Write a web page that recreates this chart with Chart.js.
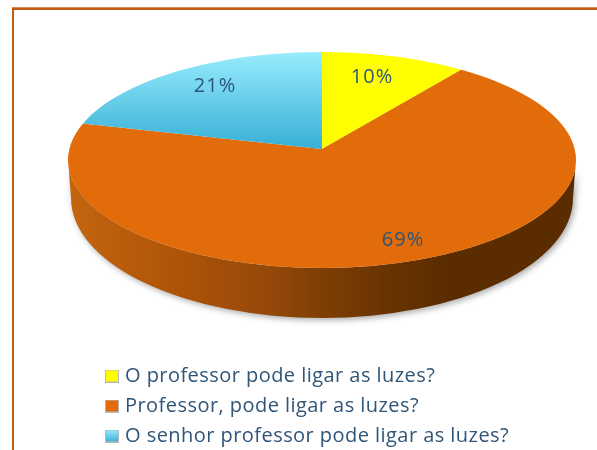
<!DOCTYPE html>
<html><head><meta charset="utf-8">
<style>html,body{margin:0;padding:0;background:#fff;overflow:hidden}canvas{display:block}</style>
<script src="https://cdn.jsdelivr.net/npm/chart.js@4"></script>
</head><body>
<canvas id="c" width="597" height="450"></canvas>
<script>
const categories = ["O professor pode ligar as luzes?", "Professor, pode ligar as luzes?", "O senhor professor pode ligar as luzes?"];
const values = [10, 69, 21];
const sliceColors = ["#FFFF00", "#E26B0A", "#5CC8E6"];
const labelColor = "#2F5578";

// picture geometry of the tilted pie
const APEX = {x: 322, y: 149};
const TOP = {x: 322, y: 160, rx: 254, ry: 108};
const BASE = {x: 322, y: 198, rx: 251, ry: 120};
const STRETCH = {x: 360, y: 149};
const LABEL_POS = [[372, 77], [403, 240], [215, 86]];

function pieGeom(chart) {
  const a = chart.chartArea;
  return {cx: (a.left + a.right) / 2, cy: (a.top + a.bottom) / 2, r: Math.min(a.right - a.left, a.bottom - a.top) / 2};
}
function cyanGradient(chart) {
  if (!chart.chartArea) return sliceColors[2];
  const g = pieGeom(chart), sy = STRETCH.y / g.r;
  const y0 = g.cy + (52 - APEX.y) / sy, y1 = g.cy + (150 - APEX.y) / sy;
  const gr = chart.ctx.createLinearGradient(0, y0, 0, y1);
  gr.addColorStop(0, "#98ECFC");
  gr.addColorStop(1, "#36AED6");
  return gr;
}
function marker(i) {
  const m = document.createElement("canvas");
  m.width = 14; m.height = 13;
  const c = m.getContext("2d");
  if (i === 2) {
    const g = c.createLinearGradient(0, 0, 0, 13);
    g.addColorStop(0, "#98ECFC"); g.addColorStop(1, "#36AED6");
    c.fillStyle = g;
  } else c.fillStyle = sliceColors[i];
  c.fillRect(0, 0, 14, 13);
  c.strokeStyle = "#B8B8B8"; c.lineWidth = 1;
  c.strokeRect(0.5, 0.5, 13, 12);
  return m;
}
const markers = categories.map((_, i) => marker(i));
const pie3d = {
  id: "pie3d",
  beforeDraw(chart) {
    const c = chart.ctx;
    c.save();
    c.fillStyle = "#fff"; c.fillRect(0, 0, 597, 450);
    c.fillStyle = "#D98A55"; c.fillRect(12, 7, 585, 1);
    c.fillStyle = "#C55A11";
    c.fillRect(12, 8, 585, 2);
    c.fillRect(12, 8, 2, 442);
    c.restore();
    c.letterSpacing = "0.45px";
  },
  beforeDatasetsDraw(chart) {
    const c = chart.ctx, g = pieGeom(chart);
    // side wall
    c.save();
    c.shadowColor = "rgba(0,0,0,0.35)"; c.shadowBlur = 6; c.shadowOffsetX = 2; c.shadowOffsetY = 2;
    const w = c.createLinearGradient(68, 0, 576, 0);
    w.addColorStop(0, "#C4650F");
    w.addColorStop(0.2, "#B05508");
    w.addColorStop(0.4, "#94480A");
    w.addColorStop(0.5, "#7E3E04");
    w.addColorStop(0.62, "#6A3402");
    w.addColorStop(0.75, "#5A2C00");
    w.addColorStop(1, "#5A2C00");
    c.fillStyle = w;
    c.beginPath();
    c.ellipse(TOP.x, TOP.y, TOP.rx, TOP.ry, 0, Math.PI, 0, true);
    c.lineTo(BASE.x + BASE.rx, BASE.y);
    c.ellipse(BASE.x, BASE.y, BASE.rx, BASE.ry, 0, 0, Math.PI, false);
    c.closePath();
    c.fill();
    c.restore();
    // top surface: the library's arcs, projected
    c.save();
    c.beginPath();
    c.ellipse(TOP.x, TOP.y, TOP.rx, TOP.ry, 0, 0, Math.PI * 2);
    c.clip();
    c.translate(APEX.x, APEX.y);
    c.scale(STRETCH.x / g.r, STRETCH.y / g.r);
    c.translate(-g.cx, -g.cy);
  },
  afterDatasetsDraw(chart) {
    chart.ctx.restore();
  },
  afterDraw(chart) {
    const c = chart.ctx;
    c.save();
    c.font = "20px 'Open Sans'";
    c.letterSpacing = "1px";
    c.fillStyle = labelColor;
    c.textAlign = "center"; c.textBaseline = "middle";
    values.forEach((v, i) => c.fillText(v + "%", LABEL_POS[i][0], LABEL_POS[i][1]));
    c.restore();
  }
};
const cv = document.getElementById("c");
new Chart(cv, {
  type: "pie",
  data: {labels: categories, datasets: [{
    data: values,
    borderWidth: 0,
    backgroundColor: (ctx) => ctx.dataIndex === 2 ? cyanGradient(ctx.chart) : sliceColors[ctx.dataIndex]
  }]},
  plugins: [pie3d],
  options: {
    responsive: false,
    animation: false,
    events: [],
    layout: {padding: {left: 99, right: 0, top: 10, bottom: -6}},
    plugins: {
      tooltip: {enabled: false},
      legend: {
        position: "bottom",
        align: "start",
        labels: {
          usePointStyle: true, pointStyleWidth: 6, boxHeight: 13, padding: 10,
          color: labelColor,
          font: {family: "'Open Sans'", size: 20},
          generateLabels() {
            return categories.map((t, i) => ({
              text: t, fontColor: labelColor,
              pointStyle: markers[i], fillStyle: sliceColors[i],
              strokeStyle: "#B8B8B8", lineWidth: 1, index: i, hidden: false
            }));
          }
        }
      }
    }
  }
});
</script>
</body></html>
